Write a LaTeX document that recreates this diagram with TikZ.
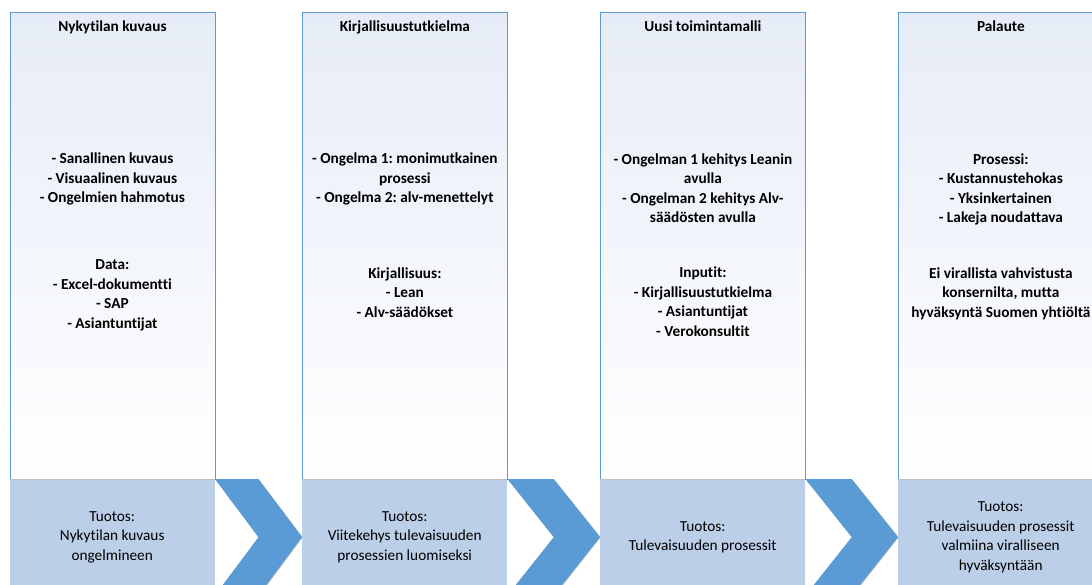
\documentclass[tikz,border=0pt]{standalone}
\usepackage{fontspec}
\setmainfont[Ligatures={NoCommon}]{Carlito}
\frenchspacing
\usetikzlibrary{calc}
\definecolor{colborder}{HTML}{5B9BD5}
\definecolor{chevfill}{HTML}{5B9BD5}
\definecolor{outfill}{HTML}{BCCFE8}
\definecolor{toptint}{HTML}{E6ECF7}
\newcommand{\mychevron}[3]{%
  \coordinate (#3a) at (#1.north east);
  \coordinate (#3t) at (#2.west);
  \coordinate (#3b) at ($(#3a)!0.5!(#3a -| #3t)$);
  \coordinate (#3d) at ($(#3b)!2!(#3b |- #3t)$);
  \coordinate (#3e) at ($(#3a)!2!(#3a |- #3t)$);
  \coordinate (#3f) at ($(#3a |- #3t)!0.5!(#3t)$);
  \fill[chevshadow] ([shift={(0.8,0.8)}]#3a) -- ([shift={(0.8,0.8)}]#3b) -- ([shift={(0.8,0)}]#3t) -- ([shift={(0.8,0.8)}]#3d) -- ([shift={(0.8,0.8)}]#3e) -- ([shift={(0.8,0)}]#3f) -- cycle;
  \fill[chevfill] (#3a) -- (#3b) -- (#3t) -- (#3d) -- (#3e) -- (#3f) -- cycle;
}
\begin{document}
\begin{tikzpicture}[x=1pt,y=-1pt,
  colbox/.style={draw=colborder, line width=0.8pt, top color=toptint, bottom color=white,
    minimum width=205pt, minimum height=467pt, anchor=north west, inner sep=0pt},
  outbox/.style={fill=outfill, minimum width=205pt, minimum height=116pt,
    anchor=north west, inner sep=0pt, align=center,
    font=\fontsize{15.3}{19.5}\selectfont},
  coltitle/.style={anchor=base, inner sep=0pt, font=\bfseries\fontsize{15.3}{19.5}\selectfont},
  coltext/.style={anchor=base, inner sep=0pt, align=center, font=\bfseries\fontsize{15.3}{19.5}\selectfont},
  chevshadow/.style={fill=black!22},
]
\useasboundingbox (0,0) rectangle (1092,585);
\clip (0,0) rectangle (1092,585);

% columns
\node[colbox] (k1) at (9.5,12) {};
\node[colbox] (k2) at (302,12) {};
\node[colbox] (k3) at (600,12) {};
\node[colbox] (k4) at (898,12) {};

% output boxes
\node[outbox] (o1) at (9.5,479) {Tuotos:\\Nykytilan kuvaus\\ongelmineen};
\node[outbox] (o2) at (302,479) {Tuotos:\\Viitekehys tulevaisuuden\\prosessien luomiseksi};
\node[outbox] (o3) at (600,479) {Tuotos:\\Tulevaisuuden prosessit};
\node[outbox] (o4) at (898,479) {Tuotos:\\Tulevaisuuden prosessit\\valmiina viralliseen\\hyväksyntään};
\foreach \o in {o1,o2,o3,o4}{\draw[black!25, line width=0.8pt] (\o.north west) -- (\o.north east);}

% chevrons
\mychevron{o1}{o2}{ch1}
\mychevron{o2}{o3}{ch2}
\mychevron{o3}{o4}{ch3}

% titles
\node[coltitle] (t1) at (k1.north |- 0,32) {Nykytilan kuvaus};
\node[coltitle] (t2) at (k2.north |- 0,32) {Kirjallisuustutkielma};
\node[coltitle] (t3) at (k3.north |- 0,32) {Uusi toimintamalli};
\node[coltitle] (t4) at (k4.north |- 0,32) {Palaute};

% body texts (anchor = baseline of last line)
\node[coltext] (a1) at (k1.north |- 0,203) {- Sanallinen kuvaus\\- Visuaalinen kuvaus\\- Ongelmien hahmotus};
\node[coltext] (b1) at (k1.north |- 0,328) {Data:\\- Excel-dokumentti\\- SAP\\- Asiantuntijat};
\node[coltext] (a2) at (k2.north |- 0,203) {- Ongelma 1: monimutkainen\\prosessi\\- Ongelma 2: alv-menettelyt};
\node[coltext] (b2) at (k2.north |- 0,317) {Kirjallisuus:\\- Lean\\- Alv-säädökset};
\node[coltext] (a3) at (k3.north |- 0,223) {- Ongelman 1 kehitys Leanin\\avulla\\- Ongelman 2 kehitys Alv-\\säädösten avulla};
\node[coltext] (b3) at (k3.north |- 0,336) {Inputit:\\- Kirjallisuustutkielma\\- Asiantuntijat\\- Verokonsultit};
\node[coltext] (a4) at (k4.north |- 0,223) {Prosessi:\\- Kustannustehokas\\- Yksinkertainen\\- Lakeja noudattava};
\node[coltext] (b4) at (k4.north |- 0,317) {Ei virallista vahvistusta\\konsernilta, mutta\\hyväksyntä Suomen yhtiöltä};
\end{tikzpicture}
\end{document}
